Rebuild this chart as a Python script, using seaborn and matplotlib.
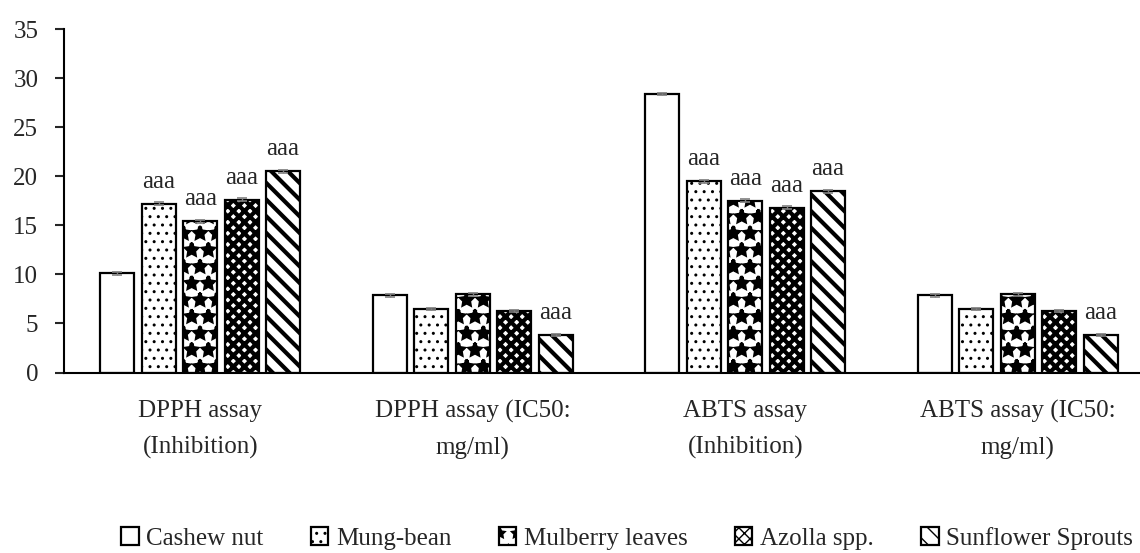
import numpy as np
import pandas as pd
import matplotlib
matplotlib.use("Agg")
import matplotlib.pyplot as plt
import seaborn as sns

# data
assays = ["DPPH assay\n(Inhibition)", "DPPH assay (IC50:\nmg/ml)",
          "ABTS assay\n(Inhibition)", "ABTS assay (IC50:\nmg/ml)"]
samples = ["Cashew nut", "Mung-bean", "Mulberry leaves", "Azolla spp.", "Sunflower Sprouts"]

cashew = [10.1, 7.9, 28.4, 7.9]
mung = [17.2, 6.5, 19.5, 6.5]
mulberry = [15.4, 8.0, 17.5, 8.0]
azolla = [17.6, 6.3, 16.8, 6.3]
sunflower = [20.5, 3.8, 18.5, 3.8]

cashew_sd = [0.2, 0.15, 0.15, 0.15]
mung_sd = [0.15, 0.1, 0.15, 0.1]
mulberry_sd = [0.15, 0.15, 0.15, 0.15]
azolla_sd = [0.15, 0.1, 0.15, 0.1]
sunflower_sd = [0.15, 0.1, 0.15, 0.1]

cashew_lbl = ["", "", "", ""]
mung_lbl = ["aaa", "", "aaa", ""]
mulberry_lbl = ["aaa", "", "aaa", ""]
azolla_lbl = ["aaa", "", "aaa", ""]
sunflower_lbl = ["aaa", "aaa", "aaa", "aaa"]

values = [cashew, mung, mulberry, azolla, sunflower]
errors = [cashew_sd, mung_sd, mulberry_sd, azolla_sd, sunflower_sd]
letters = [cashew_lbl, mung_lbl, mulberry_lbl, azolla_lbl, sunflower_lbl]
hatches = ["", "..", "*", "xxx", "\\\\"]
hatch_lw = [1.0, 1.0, 2.5, 3.0, 3.0]

df = pd.DataFrame({
    "assay": assays * len(samples),
    "sample": np.repeat(samples, len(assays)),
    "value": np.concatenate(values),
})

sns.set_style("white")
plt.rcParams["font.family"] = ["Liberation Serif", "DejaVu Serif"]
plt.rcParams["font.size"] = 18

fig = plt.figure(figsize=(11.4, 5.53), dpi=100)
ax = fig.add_axes([64 / 1140, 0.3264, 1090 / 1140, 0.6206])

sns.barplot(data=df, x="assay", y="value", hue="sample", order=assays,
            hue_order=samples, palette=["white"] * 5, edgecolor="black",
            linewidth=1.6, width=0.76, gap=0.18, errorbar=None, legend=False,
            ax=ax)

bars = list(ax.containers)
for i, cont in enumerate(bars):
    xs = []
    for p in cont:
        p.set_hatch(hatches[i])
        if hasattr(p, "set_hatch_linewidth"):
            p.set_hatch_linewidth(hatch_lw[i])
        xs.append(p.get_x() + p.get_width() / 2)
    ax.errorbar(xs, values[i], yerr=errors[i], fmt="none", ecolor="#808080",
                elinewidth=1, capsize=3.5, capthick=1.2, zorder=5)
    ax.bar_label(cont, labels=letters[i], padding=8, fontsize=18)

ax.set_ylim(0, 35)
ax.set_yticks(range(0, 36, 5))
ax.set_xlim(-0.5, 3.5)
ax.set_xlabel("")
ax.set_ylabel("")
sns.despine(ax=ax, top=True, right=True)
ax.spines["left"].set_linewidth(1.5)
ax.spines["bottom"].set_linewidth(1.5)
ax.spines["left"].set_color("black")
ax.spines["bottom"].set_color("black")
ax.tick_params(axis="y", direction="out", length=6.5, width=1.5, pad=12,
               left=True, labelsize=18)
ax.tick_params(axis="x", length=0, pad=20, labelsize=18)
for t in ax.get_xticklabels():
    t.set_linespacing(1.75)

handles = [c[0] for c in bars]
fig.legend(handles, samples, loc="center", bbox_to_anchor=(0.55, 0.027),
           ncol=5, frameon=False, handlelength=0.7, handleheight=0.7,
           handletextpad=0.3, columnspacing=1.9, fontsize=18)

fig.savefig("out.png", dpi=100)
